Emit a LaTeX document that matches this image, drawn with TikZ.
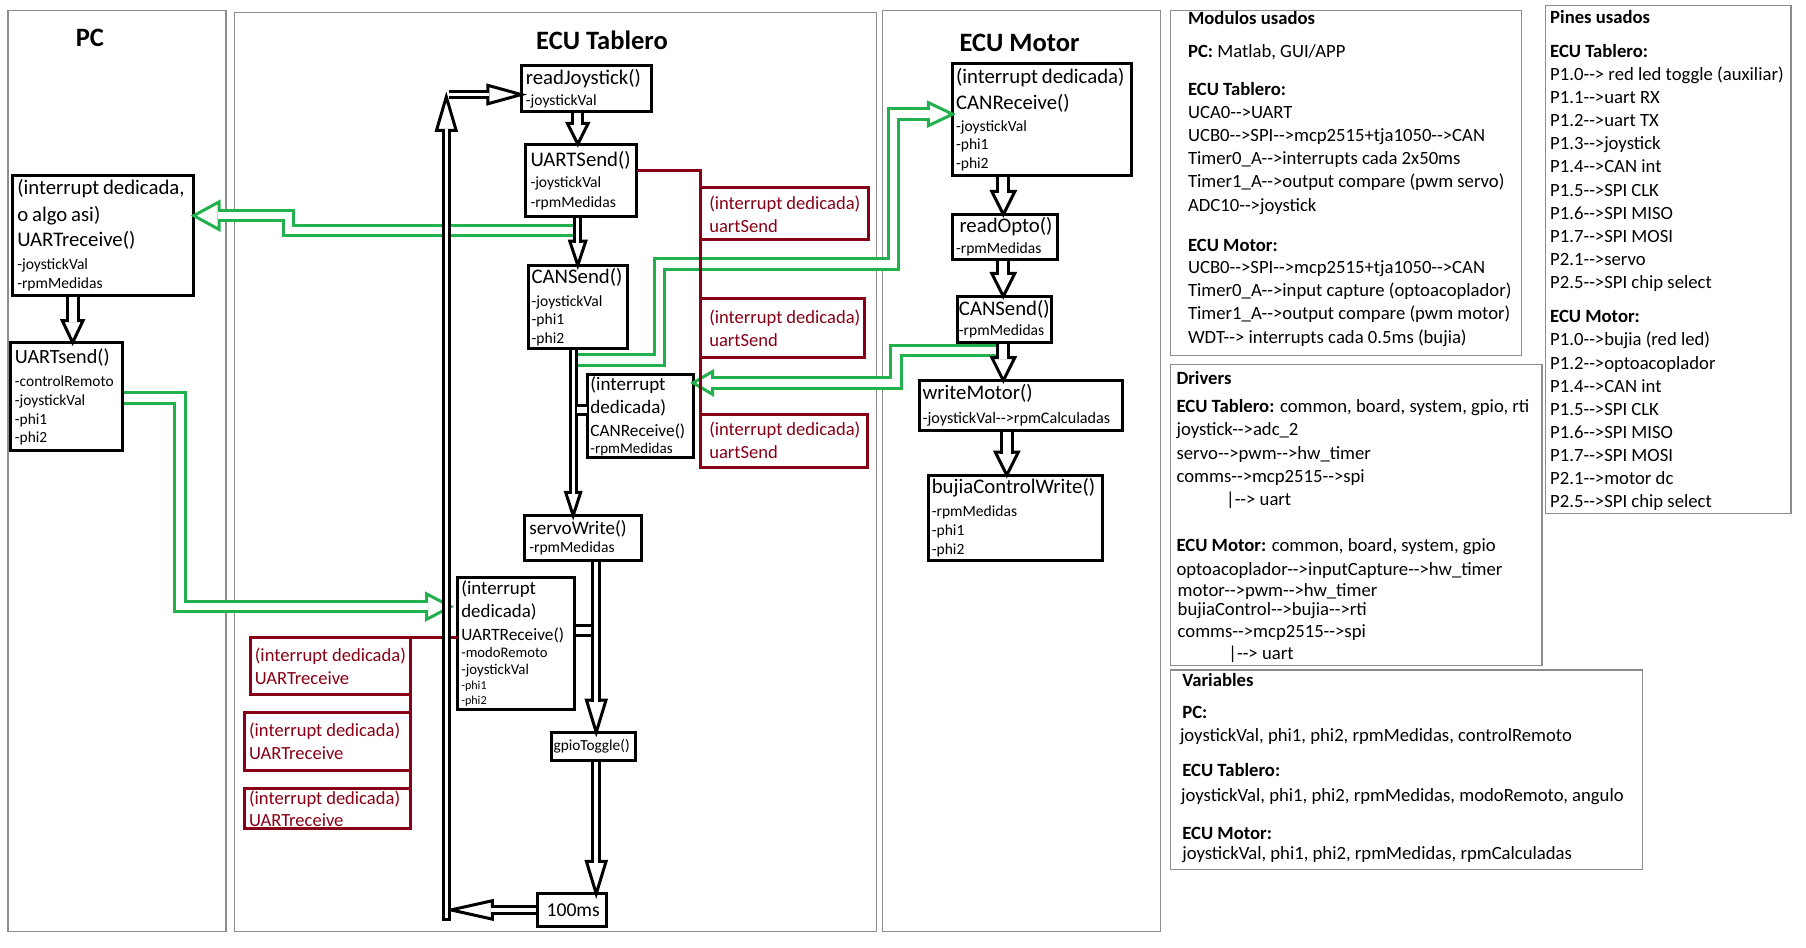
\documentclass[tikz,border=0pt]{standalone}
\usepackage{fontspec}
\setmainfont{Carlito}[Ligatures=TeXOff]
\usetikzlibrary{calc}
\setlength\parindent{0pt}
\definecolor{grn}{RGB}{34,177,76}
\definecolor{dred}{RGB}{136,0,21}
\definecolor{pgray}{RGB}{140,140,140}
\newcommand\bxl[3]{{\fontsize{#1}{#2}\selectfont\mbox{#3}\par}}
\newcommand\hhead[5]{\draw[#3, line width=2.6pt, fill=white, line join=miter, shift={(#1)}, rotate=#2] (0,0) -- (-#4,#5) -- (-#4,-#5) -- cycle;}
\newcommand\vdown[6]{%
  \hhead{#1 |- #3}{-90}{black}{#5}{#6}
  \draw[hsh, double distance=#4, shorten <=1.3pt] (#1 |- #2) -- ($(#1 |- #3)+(0,-#5+1.3)$);}
\newcommand\rt[4]{\node[rtxt] (#1) at (#2,#3) {#4};}
\tikzset{
  fb/.style={draw, line width=2.6pt, anchor=north west, inner xsep=4pt, inner ysep=0pt, outer sep=0pt, align=left},
  rb/.style={fb, draw=dred, text=dred, inner xsep=8pt},
  pnl/.style={draw=pgray, line width=1pt, anchor=north west, inner sep=0pt, outer sep=0pt},
  hsh/.style={draw=black, line width=2.6pt, double=white},
  gsh/.style={draw=grn, line width=2.6pt, double=white, double distance=6.4pt},
  rln/.style={draw=dred, line width=2.6pt},
  rtxt/.style={inner sep=0pt, anchor=base west, font=\fontsize{16.2}{20}\selectfont},
  ttl/.style={font=\bfseries\fontsize{23}{28}\selectfont, inner sep=0pt}
}
\begin{document}
\begin{tikzpicture}[x=1pt,y=-1pt]
\fill[white] (0,0) rectangle (1566,822);
\useasboundingbox (0,0) rectangle (1566,822);
% panels
\node[pnl, minimum width=189pt, minimum height=799pt] (pPC) at (7,9) {};
\node[pnl, minimum width=557pt, minimum height=797pt] (pTab) at (203,11) {};
\node[pnl, minimum width=241pt, minimum height=799pt] (pMot) at (765,9) {};
\node[pnl, minimum width=304pt, minimum height=299pt] (pMod) at (1015,9) {};
\node[pnl, minimum width=213pt, minimum height=440pt] (pPin) at (1340,5) {};
\node[pnl, minimum width=322pt, minimum height=261pt] (pDrv) at (1015,316) {};
\node[pnl, minimum width=409pt, minimum height=173pt] (pVar) at (1015,581) {};
\node[ttl] (tPC) at (78,33) {PC};
\node[ttl] (tTab) at (522,35) {ECU Tablero};
\node[ttl] (tMot) at (884,37) {ECU Motor};
% PC boxes
\node[fb, minimum width=157pt, minimum height=104pt, text width=149pt] (pcrx) at (11,152)
 {\bxl{18}{18}{(interrupt dedicada,}\bxl{18}{23}{o algo asi)}\bxl{18}{22}{UARTreceive()}\bxl{13.5}{20}{-joystickVal}\bxl{13.5}{16}{-rpmMedidas}};
\node[fb, minimum width=97pt, minimum height=94pt, text width=89pt] (pctx) at (9,297)
 {\bxl{17.5}{18}{UARTsend()}\bxl{13.4}{20}{-controlRemoto}\bxl{13.4}{17}{-joystickVal}\bxl{13.4}{16}{-phi1}\bxl{13.4}{16}{-phi2}};
% Tablero boxes
\node[fb, minimum width=113pt, minimum height=40pt, text width=105pt] (rj) at (452,57)
 {\bxl{18}{18}{readJoystick()}\bxl{13.5}{18}{-joystickVal}};
\node[fb, minimum width=96pt, minimum height=63pt, text width=88pt] (us) at (456,125)
 {\bxl{18}{18}{UARTSend()}\bxl{13.5}{19}{-joystickVal}\bxl{13.5}{17}{-rpmMedidas}};
\node[fb, minimum width=86pt, minimum height=72pt, text width=80pt, inner xsep=3pt] (cs) at (458,230)
 {\bxl{18}{18}{CANSend()}\bxl{13.5}{20}{-joystickVal}\bxl{13.5}{16}{-phi1}\bxl{13.5}{16}{-phi2}};
\node[fb, minimum width=92pt, minimum height=72pt, text width=86pt, inner xsep=3pt] (cr) at (509,325)
 {\bxl{16.5}{18}{(interrupt}\bxl{16.5}{20}{dedicada)}\bxl{15}{20}{CANReceive()}\bxl{13}{15}{-rpmMedidas}};
\node[fb, minimum width=101pt, minimum height=39pt, text width=93pt] (sw) at (455,447)
 {\bxl{16.6}{18}{servoWrite()}\bxl{13.5}{16}{-rpmMedidas}};
\node[fb, minimum width=101pt, minimum height=114pt, text width=95pt, inner xsep=3pt] (ur) at (397,501)
 {\bxl{16.4}{18}{(interrupt}\bxl{16.4}{20}{dedicada)}\bxl{15}{20}{UARTReceive()}\bxl{12.7}{15}{-modoRemoto}\bxl{12.9}{15}{-joystickVal}\bxl{10.5}{13}{-phi1}\bxl{10.5}{13}{-phi2}};
\node[fb, minimum width=73pt, minimum height=24pt, text width=69pt, inner xsep=2pt] (gt) at (478,635)
 {\bxl{13.3}{16}{gpioToggle()}};
\node[fb, minimum width=60pt, minimum height=28pt, text width=52pt, inner xsep=4pt] (ms) at (466,775)
 {\bxl{17}{18}{\hspace*{4pt}100ms}};
% red boxes
\node[rb, minimum width=146pt, minimum height=45pt, text width=130pt] (ru1) at (607,163)
 {\bxl{16.1}{18}{(interrupt dedicada)}\bxl{16.1}{20}{uartSend}};
\node[rb, minimum width=143pt, minimum height=51pt, text width=127pt] (ru2) at (607,259)
 {\bxl{16.1}{18}{(interrupt dedicada)}\bxl{16.1}{20}{uartSend}};
\node[rb, minimum width=145pt, minimum height=46pt, text width=129pt] (ru3) at (607,359)
 {\bxl{16.1}{18}{(interrupt dedicada)}\bxl{16.1}{20}{uartSend}};
\node[rb, minimum width=139pt, minimum height=49pt, text width=131pt, inner xsep=4pt] (rr1) at (217,553)
 {\bxl{16.1}{18}{(interrupt dedicada)}\bxl{16.1}{20}{UARTreceive}};
\node[rb, minimum width=144pt, minimum height=50pt, text width=136pt, inner xsep=4pt] (rr2) at (212,618)
 {\bxl{16.1}{18}{(interrupt dedicada)}\bxl{16.1}{20}{UARTreceive}};
\node[rb, minimum width=144pt, minimum height=34pt, text width=136pt, inner xsep=4pt] (rr3) at (212,684)
 {\bxl{16.1}{18}{(interrupt dedicada)}\bxl{16.1}{19}{UARTreceive}};
% Motor boxes
\node[fb, minimum width=155pt, minimum height=97pt, text width=149pt, inner xsep=3pt] (mcr) at (826,55)
 {\bxl{18}{18}{(interrupt dedicada)}\bxl{18}{23}{CANReceive()}\bxl{13.5}{19}{-joystickVal}\bxl{13.5}{16}{-phi1}\bxl{13.5}{16}{-phi2}};
\node[fb, minimum width=91pt, minimum height=39pt, text width=85pt, inner xsep=3pt] (ro) at (826,186)
 {\bxl{18}{18}{\hspace*{3pt}readOpto()}\bxl{13.5}{18}{-rpmMedidas}};
\node[fb, minimum width=82pt, minimum height=40pt, text width=79pt, inner xsep=1.5pt] (mcs) at (830,257)
 {\bxl{18}{18}{CANSend()}\bxl{13.5}{17}{-rpmMedidas}};
\node[fb, minimum width=176pt, minimum height=43pt, text width=170pt, inner xsep=3pt] (wm) at (797,330)
 {\bxl{18}{18}{writeMotor()}\bxl{14}{21}{-joystickVal-->rpmCalculadas}};
\node[fb, minimum width=151pt, minimum height=74pt, text width=145pt, inner xsep=3pt] (bw) at (805,412)
 {\bxl{18}{18}{bujiaControlWrite()}\bxl{13.5}{20}{-rpmMedidas}\bxl{13.5}{16}{-phi1}\bxl{13.5}{17}{-phi2}};
% coordinates for arrow columns
\coordinate (xpc) at (63,0);
\coordinate (xa) at (501,0);
\coordinate (xb) at (497,0);
\coordinate (xc) at (517,0);
\coordinate (xm) at (870,0);
\coordinate (xm2) at (873,0);
\coordinate (xl) at (387,0);
% green connectors
\coordinate (g1s) at (501,200);
\coordinate (g1t) at ($(pcrx.east)+(0,-17)$);
\hhead{g1t}{180}{grn}{22}{12}
\draw[gsh] (g1s) -- (250,200) -- (250,187) -- ($(g1t)+(20.7,0)$);
\coordinate (g2s) at (497,312);
\coordinate (g2t) at ($(mcr.west)+(0,-4.5)$);
\hhead{g2t}{0}{grn}{21}{10}
\draw[gsh] (g2s) -- (572,312) -- (572,229) -- (775,229) |- ($(g2t)+(-19.7,0)$);
\coordinate (g3s) at (870,304);
\coordinate (g3t) at ($(cr.east)+(0,-29)$);
\hhead{g3t}{180}{grn}{17}{10}
\draw[gsh] (g3s) -- (777,304) |- ($(g3t)+(15.7,0)$);
\coordinate (g4t) at ($(ur.west)+(-6,-32)$);
\hhead{g4t}{0}{grn}{21}{11}
\draw[gsh, shorten <=1.3pt] ($(pctx.east)+(0,1)$) -- (156,345) |- ($(g4t)+(-19.7,0)$);
% red connectors
\draw[rln] ($(us.east)+(0,-8.5)$) -| (ru3.south west);
\draw[rln] ($(ur.west)+(0,-5)$) -| (rr3.south east);
% black hollow arrows
\vdown{xpc}{pcrx.south}{pctx.north}{7pt}{19}{9}
\vdown{xa}{rj.south}{us.north}{6pt}{18}{9}
\vdown{xa}{us.south}{cs.north}{2.5pt}{21}{7}
\vdown{xb}{cs.south}{sw.north}{2.5pt}{20}{6.5}
\vdown{xc}{sw.south}{gt.north}{3.5pt}{28}{8.5}
\vdown{xc}{gt.south}{ms.north}{3.5pt}{28}{8.5}
\vdown{xm}{mcr.south}{ro.north}{7pt}{20}{10}
\vdown{xm}{ro.south}{mcs.north}{7pt}{20}{10}
\vdown{xm}{mcs.south}{wm.north}{7pt}{20}{10}
\vdown{xm2}{wm.south}{bw.north}{7pt}{20}{10}
% stubs
\coordinate (crs) at (500.5,355.5);
\draw[hsh, double distance=4.4pt] (crs) -- (crs -| cr.west);
\coordinate (urs) at (512.8,546.5);
\draw[hsh, double distance=6.5pt, shorten <=1.3pt] (urs -| ur.east) -- (urs);
% loop
\coordinate (lb) at (387,797);
\coordinate (lt) at (387,84);
\coordinate (lt2) at (389,82);
\coordinate (lm) at ($(ms.west -| xl)+(4,0)$);
\hhead{lm}{180}{black}{36}{8}
\draw[hsh, double distance=3pt, shorten <=1.3pt] (ms.west) -- ($(lm)+(34.7,0)$);
\hhead{lt}{90}{black}{29}{8.5}
\draw[hsh, double distance=3pt] (lb) -- ($(lt)+(0,27.7)$);
\draw[line width=2.6pt] ($(lb)+(-4.1,0)$) -- ($(lb)+(4.1,0)$);
\hhead{rj.west |- lt2}{0}{black}{29}{8}
\draw[hsh, double distance=3pt] (lt2) -- ($(rj.west |- lt2)+(-27.7,0)$);
% right side texts
\rt{m1}{1030}{21}{\textbf{Modulos usados}}
\rt{m2}{1030}{50}{\textbf{PC:} Matlab, GUI/APP}
\rt{m3}{1030}{83}{\textbf{ECU Tablero:}}
\rt{m4}{1030}{103}{UCA0-->UART}
\rt{m5}{1030}{123}{UCB0-->SPI-->mcp2515+tja1050-->CAN}
\rt{m6}{1030}{143}{Timer0\_A-->interrupts cada 2x50ms}
\rt{m7}{1030}{163}{Timer1\_A-->output compare (pwm servo)}
\rt{m8}{1030}{183}{ADC10-->joystick}
\rt{m9}{1030}{218}{\textbf{ECU Motor:}}
\rt{m10}{1030}{237}{UCB0-->SPI-->mcp2515+tja1050-->CAN}
\rt{m11}{1030}{257}{Timer0\_A-->input capture (optoacoplador)}
\rt{m12}{1030}{277}{Timer1\_A-->output compare (pwm motor)}
\rt{m13}{1030}{298}{WDT--> interrupts cada 0.5ms (bujia)}
\rt{p1}{1344}{20}{\textbf{Pines usados}}
\rt{p2}{1344}{50}{\textbf{ECU Tablero:}}
\rt{p3}{1344}{70}{P1.0--> red led toggle (auxiliar)}
\rt{p4}{1344}{90}{P1.1-->uart RX}
\rt{p5}{1344}{110}{P1.2-->uart TX}
\rt{p6}{1344}{130}{P1.3-->joystick}
\rt{p7}{1344}{150}{P1.4-->CAN int}
\rt{p8}{1344}{170}{P1.5-->SPI CLK}
\rt{p9}{1344}{190}{P1.6-->SPI MISO}
\rt{p10}{1344}{210}{P1.7-->SPI MOSI}
\rt{p11}{1344}{230}{P2.1-->servo}
\rt{p12}{1344}{250}{P2.5-->SPI chip select}
\rt{p13}{1344}{280}{\textbf{ECU Motor:}}
\rt{p14}{1344}{300}{P1.0-->bujia (red led)}
\rt{p15}{1344}{320}{P1.2-->optoacoplador}
\rt{p16}{1344}{340}{P1.4-->CAN int}
\rt{p17}{1344}{360}{P1.5-->SPI CLK}
\rt{p18}{1344}{380}{P1.6-->SPI MISO}
\rt{p19}{1344}{400}{P1.7-->SPI MOSI}
\rt{p20}{1344}{420}{P2.1-->motor dc}
\rt{p21}{1344}{440}{P2.5-->SPI chip select}
\rt{d1}{1020}{333}{\textbf{Drivers}}
\rt{d2}{1020}{358}{\textbf{ECU Tablero:} common, board, system, gpio, rti}
\rt{d3}{1020}{378}{joystick-->adc\_2}
\rt{d4}{1020}{398}{servo-->pwm-->hw\_timer}
\rt{d5}{1020}{418}{comms-->mcp2515-->spi}
\rt{d6}{1063}{438}{|--> uart}
\rt{d7}{1020}{478}{\textbf{ECU Motor:} common, board, system, gpio}
\rt{d8}{1020}{499}{optoacoplador-->inputCapture-->hw\_timer}
\rt{d9}{1021}{517}{motor-->pwm-->hw\_timer}
\rt{d10}{1021}{534}{bujiaControl-->bujia-->rti}
\rt{d11}{1021}{553}{comms-->mcp2515-->spi}
\rt{d12}{1065}{572}{|--> uart}
\rt{v1}{1025}{595}{\textbf{Variables}}
\rt{v2}{1025}{623}{\textbf{PC:}}
\rt{v3}{1023}{643}{joystickVal, phi1, phi2, rpmMedidas, controlRemoto}
\rt{v4}{1025}{673}{\textbf{ECU Tablero:}}
\rt{v5}{1024}{695}{joystickVal, phi1, phi2, rpmMedidas, modoRemoto, angulo}
\rt{v6}{1025}{728}{\textbf{ECU Motor:}}
\rt{v7}{1025}{745}{joystickVal, phi1, phi2, rpmMedidas, rpmCalculadas}
\end{tikzpicture}
\end{document}
